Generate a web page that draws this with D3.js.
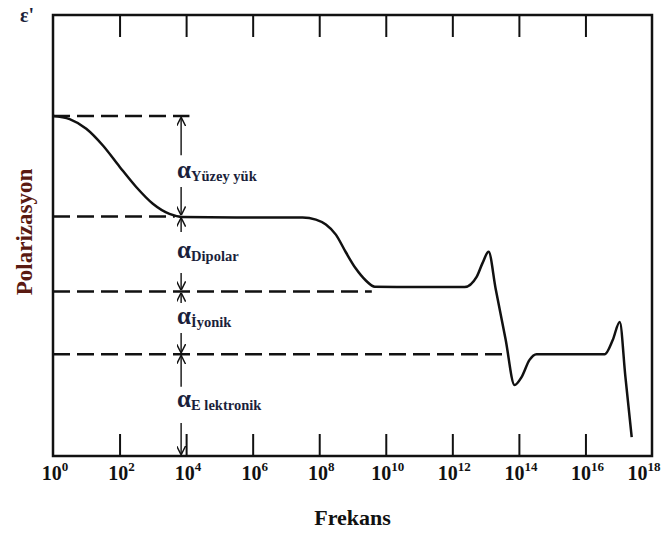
<!DOCTYPE html>
<head>
<meta charset="utf-8">
<style>
body { margin: 0; background: #fff; }
text { font-family: "Liberation Serif", "Times New Roman", serif; font-weight: bold; }
.frame { fill: none; stroke: #111; stroke-width: 2.5px; }
.tick line { stroke: #111; stroke-width: 2px; }
.domain { display: none; }
.curve { fill: none; stroke: #111; stroke-width: 2.5px; }
.level { stroke: #111; stroke-width: 2.5px; stroke-dasharray: 17,7; }
.arrow { stroke: #111; stroke-width: 1.4px; }
</style>
</head>
<body>
<script src="https://d3js.org/d3.v7.min.js"></script>
<script>
// frequency decades (log10 f) used as tick values
var tickExp = [0, 2, 4, 6, 8, 10, 12, 14, 16, 18];

// polarization curve: log10(f) and eps' (arbitrary units)
var curveExp = [0, 0.5, 1.0, 1.5, 2.0, 2.5, 3.0, 3.5, 3.9, 5.5, 7.5, 7.9, 8.2, 8.5, 8.8, 9.1, 9.4, 9.67, 11.0,
                12.37, 12.73, 12.91, 13.09, 13.3, 13.6, 13.87, 14.08, 14.32, 14.53, 16.58, 16.82, 17.03, 17.2, 17.39];
var curveEps = [7.71, 7.64, 7.42, 7.04, 6.56, 6.1, 5.72, 5.49, 5.42, 5.41, 5.41, 5.36, 5.25, 5.02, 4.62, 4.25, 3.98, 3.84, 3.83,
                3.83, 4.06, 4.38, 4.63, 3.8, 2.65, 1.61, 1.79, 2.18, 2.31, 2.31, 2.63, 3.04, 1.8, 0.43];

// dashed levels and where they stop (log10 f)
var levelEps = [7.71, 5.43, 3.73, 2.31];
var levelEnd = [4.1, 3.66, 9.58, 13.57];

// mechanism labels between levels
var mechNames = ["Yüzey yük", "Dipolar", "İyonik", "E lektronik"];
var bandTop = [7.71, 5.43, 3.73, 2.31];
var bandBottom = [5.43, 3.73, 2.31, 0];
var upArrowEnd = [6.82, 5.08, 3.47, 1.57];   // end of arrow pointing up
var labelEps = [6.3, 4.5, 3.0, 1.1];         // label baseline
var downArrowStart = [6.1, 4.15, 2.79, 0.75]; // start of arrow pointing down
var arrowExp = 3.85;

var W = 668, H = 533;
var pLeft = 53, pRight = 652, pTop = 15, pBottom = 456;

var svg = d3.select("body").append("svg")
    .attr("width", W)
    .attr("height", H);

var x = d3.scaleLog().domain([1, 1e18]).range([pLeft, pRight]);
var y = d3.scaleLinear().domain([0, 10]).range([pBottom, pTop]);
var f = function(e) { return Math.pow(10, e); };

// frame
svg.append("rect")
    .attr("class", "frame")
    .attr("x", pLeft).attr("y", pTop)
    .attr("width", pRight - pLeft).attr("height", pBottom - pTop);

// inner ticks, top and bottom
var inner = tickExp.slice(1, -1).map(f);
svg.append("g")
    .attr("transform", "translate(0," + pBottom + ")")
    .call(d3.axisBottom(x).tickValues(inner).tickSize(-22).tickFormat(""));
svg.append("g")
    .attr("transform", "translate(0," + pTop + ")")
    .call(d3.axisTop(x).tickValues(inner).tickSize(-22).tickFormat(""));

// tick labels 10^n
var lab = svg.selectAll(".xlab")
    .data(tickExp)
  .enter().append("text")
    .attr("class", "xlab")
    .attr("x", function(d) { return Math.min(x(f(d)) + 2, 644); })
    .attr("y", pBottom + 24)
    .attr("text-anchor", "middle")
    .style("font-size", "20px")
    .style("fill", "#111");
lab.append("tspan").text("10");
lab.append("tspan")
    .attr("dy", -9)
    .style("font-size", "13px")
    .text(function(d) { return d; });

// dashed levels
svg.selectAll(".level")
    .data(levelEps)
  .enter().append("line")
    .attr("class", "level")
    .attr("x1", pLeft)
    .attr("x2", function(d, i) { return x(f(levelEnd[i])); })
    .attr("y1", function(d) { return y(d); })
    .attr("y2", function(d) { return y(d); });

// curve
var line = d3.line()
    .x(function(d) { return x(f(d[0])); })
    .y(function(d) { return y(d[1]); })
    .curve(d3.curveMonotoneX);

svg.append("path")
    .attr("class", "curve")
    .attr("d", line(d3.zip(curveExp, curveEps)));

// arrows
var defs = svg.append("defs");
defs.append("marker")
    .attr("id", "head")
    .attr("viewBox", "0 0 10 10")
    .attr("refX", 9).attr("refY", 5)
    .attr("markerWidth", 9).attr("markerHeight", 9)
    .attr("markerUnits", "userSpaceOnUse")
    .attr("orient", "auto")
  .append("path")
    .attr("d", "M0,0 L10,5 L0,10")
    .style("fill", "none")
    .style("stroke", "#111")
    .style("stroke-width", 1.6);

var ax = x(f(arrowExp));
mechNames.forEach(function(name, i) {
  svg.append("line")
      .attr("class", "arrow")
      .attr("x1", ax).attr("x2", ax)
      .attr("y1", y(upArrowEnd[i])).attr("y2", y(bandTop[i]) + 2)
      .attr("marker-end", "url(#head)");
  svg.append("line")
      .attr("class", "arrow")
      .attr("x1", ax).attr("x2", ax)
      .attr("y1", y(downArrowStart[i])).attr("y2", y(bandBottom[i]) - 2)
      .attr("marker-end", "url(#head)");
  var t = svg.append("text")
      .attr("x", ax - 4)
      .attr("y", y(labelEps[i]))
      .style("fill", "#1b1f3b");
  t.append("tspan").style("font-size", "25px").text("α");
  t.append("tspan").attr("dy", 3).style("font-size", "14.5px").text(name);
});

// axis titles
svg.append("text")
    .attr("x", 20).attr("y", 22)
    .style("font-size", "20px")
    .style("fill", "#1b1f3b")
    .text("ε'");

svg.append("text")
    .attr("transform", "translate(32,232) rotate(-90)")
    .attr("text-anchor", "middle")
    .style("font-size", "23px")
    .style("fill", "#5a1a12")
    .text("Polarizasyon");

svg.append("text")
    .attr("x", (pLeft + pRight) / 2)
    .attr("y", 525)
    .attr("text-anchor", "middle")
    .style("font-size", "22px")
    .style("fill", "#111")
    .text("Frekans");
</script>
